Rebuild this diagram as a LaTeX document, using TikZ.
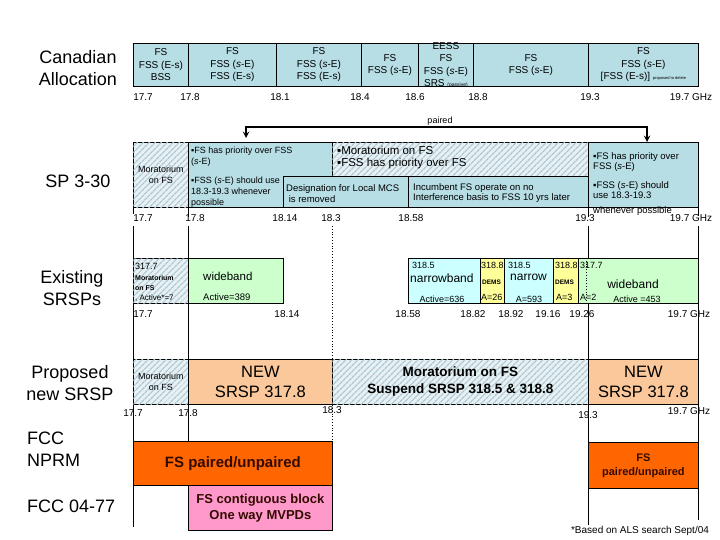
\documentclass[tikz,border=0pt]{standalone}
\usepackage{fontspec}
\setmainfont{Liberation Sans}
\usetikzlibrary{patterns.meta}
\definecolor{bandblue}{RGB}{183,221,229}
\definecolor{hatchbg}{RGB}{232,240,243}
\definecolor{hatchln}{RGB}{170,200,210}
\definecolor{wgreen}{RGB}{204,255,204}
\definecolor{ncyan}{RGB}{204,255,255}
\definecolor{dyellow}{RGB}{255,255,153}
\definecolor{peach}{RGB}{251,200,155}
\definecolor{fccorange}{RGB}{255,102,0}
\definecolor{mpink}{RGB}{255,153,204}
\definecolor{darktxt}{RGB}{51,10,0}
\tikzset{
  cell/.style={draw=black,line width=0.8pt,anchor=north west,inner sep=0pt,align=center},
  fsband/.style={cell,fill=bandblue},
  hatchcell/.style={cell,fill=hatchbg,postaction={pattern={Lines[angle=45,distance=4pt,line width=1.3pt]},pattern color=hatchln}},
  wide/.style={cell,fill=wgreen},
  narrow/.style={cell,fill=ncyan},
  dems/.style={cell,fill=dyellow},
  newsrsp/.style={cell,fill=peach,font=\fontsize{16.5}{20}\selectfont},
  fccbox/.style={cell,fill=fccorange,text=darktxt,font=\bfseries\fontsize{15}{18}\selectfont},
  mvpd/.style={cell,fill=mpink,text=darktxt,font=\bfseries\fontsize{13}{16}\selectfont},
  txt/.style={inner sep=0pt,align=left,anchor=north west,font=\fontsize{9}{11}\selectfont},
  freq/.style={inner sep=0pt,font=\fontsize{10}{12}\selectfont},
  side/.style={inner sep=0pt,align=center,font=\fontsize{18}{22}\selectfont},
  guide/.style={draw=black,line width=0.8pt},
  pairarrow/.style={<->,>=stealth,line width=1.8pt},
}

\begin{document}
\begin{tikzpicture}[x=1pt,y=-1pt,every node/.style={font=\fontsize{10}{12.5}\selectfont}]
\fill[white] (0,0) rectangle (720,540);
\useasboundingbox (0,0) rectangle (720,540);
\node[side] (lcan) at (78,68) {Canadian\\Allocation};
\node[side] (lsp) at (78,181) {SP 3-30};
\node[side] (lex) at (72,288) {Existing\\SRSPs};
\node[side] (lpro) at (70,383) {Proposed\\new SRSP};
\node[side,align=left,anchor=north west] (lfcc) at (27,432) {FCC\\NPRM\\[24pt]FCC 04-77};
\draw[guide] (133,226) -- (133,527);
\draw[guide] (188,226) -- (188,530);
\draw[guide,dotted] (332,226) -- (332,441);
\draw[guide] (588,226) -- (588,525);
\draw[guide] (698,226) -- (698,520);
\node[fsband,minimum width=55,minimum height=43] (ca1) at (133,43) {FS\\FSS (E-s)\\BSS};
\node[fsband,minimum width=88,minimum height=43] (ca2) at (188,43) {FS\\FSS (\textit{s}-E)\\FSS (E-s)};
\node[fsband,minimum width=85,minimum height=43] (ca3) at (276,43) {FS\\FSS (\textit{s}-E)\\FSS (E-s)};
\node[fsband,minimum width=57,minimum height=43] (ca4) at (361,43) {FS\\FSS (\textit{s}-E)};
\node[fsband,minimum width=55,minimum height=43] (ca5) at (418,43) {};
\node[inner sep=0pt,align=center] (ca5t) at (ca5.center) {EESS\\FS\\FSS (\textit{s}-E)\\SRS {\fontsize{5}{6}\selectfont(passive)}};
\node[fsband,minimum width=115,minimum height=43] (ca6) at (473,43) {FS\\FSS (\textit{s}-E)};
\node[fsband,minimum width=110,minimum height=43] (ca7) at (588,43) {FS\\FSS (\textit{s}-E)\\{}[FSS (E-s)] {\fontsize{4}{5}\selectfont proposed to delete}};
\foreach \x/\f [count=\i] in {143/17.7,190/17.8,280/18.1,360/18.4,415/18.6,478/18.8,590/19.3,691/19.7 GHz}
  \node[freq] (caf\i) at (\x,97) {\f};
\coordinate (pairL) at (246,138);
\coordinate (pairT) at (440,127);
\coordinate (pairR) at (647,142);
\draw[pairarrow] (pairL) |- (pairT) -| (pairR);
\node[inner sep=1pt,anchor=south,font=\fontsize{9}{10}\selectfont] (pairlbl) at (pairT) {paired};
\node[hatchcell,minimum width=55,minimum height=65,font=\fontsize{9}{11.5}\selectfont] (sp1) at (133,142) {Moratorium\\on FS};
\node[fsband,minimum width=144,minimum height=65] (sp2) at (188,142) {};
\node[hatchcell,minimum width=256,minimum height=34] (sp3) at (332,142) {};
\node[fsband,minimum width=125,minimum height=31] (sp4) at (283,176) {};
\node[fsband,minimum width=180,minimum height=31] (sp5) at (408,176) {};
\node[fsband,minimum width=110,minimum height=65] (sp6) at (588,142) {};
\node[txt] (sp2a) at (191,147) {▪FS has priority over FSS\\(\textit{s}-E)};
\node[txt] (sp2b) at (191,177) {▪FSS (\textit{s}-E) should use\\18.3-19.3 whenever\\possible};
\node[txt,font=\fontsize{11.5}{12}\selectfont] (sp3a) at (337,146) {▪Moratorium on FS\\▪FSS has priority over FS};
\node[txt,font=\fontsize{9.5}{11}\selectfont] (sp4a) at (286,184) {Designation for Local MCS\\\ is removed};
\node[txt,font=\fontsize{9.5}{10.5}\selectfont] (sp5a) at (413,183) {Incumbent FS operate on no\\Interference basis to FSS 10 yrs later};
\node[txt,font=\fontsize{9.5}{10}\selectfont] (sp6a) at (593,152) {▪FS has priority over\\FSS (\textit{s}-E)};
\node[txt,font=\fontsize{9.5}{10}\selectfont] (sp6b) at (593,181) {▪FSS (\textit{s}-E) should\\use 18.3-19.3};
\node[txt,font=\fontsize{9.5}{10}\selectfont] (sp6c) at (593,206) {whenever possible};
\draw[guide] (sp1.south west) -- ++(0,6);
\draw[guide] (sp2.south west) -- ++(0,9);
\draw[guide] (sp6.south west) -- ++(0,9);
\draw[guide] (sp6.south east) -- ++(0,8);
\foreach \x/\f [count=\i] in {143/17.7,195/17.8,285/18.14,331/18.3,411/18.58,585/19.3,691/19.7 GHz}
  \node[freq] (spf\i) at (\x,218) {\f};
\node[hatchcell,minimum width=55,minimum height=45] (ex1) at (133,258) {};
\node[wide,minimum width=95,minimum height=45] (ex2) at (188,258) {};
\node[narrow,minimum width=72,minimum height=45] (ex3) at (408,258) {};
\node[dems,minimum width=24,minimum height=45] (ex4) at (480,258) {};
\node[narrow,minimum width=49,minimum height=45] (ex5) at (504,258) {};
\node[dems,minimum width=25,minimum height=45] (ex6) at (553,258) {};
\node[wide,minimum width=120,minimum height=45] (ex7) at (578,258) {};
\draw[dotted,line width=0.8pt] ([xshift=8]ex7.north west) -- ([xshift=8]ex7.south west);
\node[txt] (ex1a) at (135,263) {317.7};
\node[txt,font=\bfseries\fontsize{7}{10}\selectfont] (ex1b) at (135,275) {Moratorium\\on FS};
\node[txt,font=\fontsize{8}{10}\selectfont] (ex1c) at (135,295) {, Active*=7};
\node[txt,font=\fontsize{11.5}{12}\selectfont] (ex2a) at (203,272) {wideband};
\node[txt,font=\fontsize{9.5}{10}\selectfont] (ex2b) at (203,293) {Active=389};
\node[txt] (ex3a) at (412,262) {318.5};
\node[txt,font=\fontsize{12}{12}\selectfont] (ex3b) at (410,274) {narrowband};
\node[freq,font=\fontsize{9}{10}\selectfont] (ex3c) at (442,299) {Active=636};
\node[txt] (ex4a) at (481,262) {318.8};
\node[txt,font=\bfseries\fontsize{6.5}{8}\selectfont] (ex4b) at (482,280) {DEMS};
\node[txt] (ex4c) at (481,294) {A=26};
\node[txt] (ex5a) at (508,262) {318.5};
\node[txt,font=\fontsize{12}{12}\selectfont] (ex5b) at (510,274) {narrow};
\node[freq,font=\fontsize{9}{10}\selectfont] (ex5c) at (529,299) {A=593};
\node[txt] (ex6a) at (555,262) {318.8};
\node[txt,font=\bfseries\fontsize{6.5}{8}\selectfont] (ex6b) at (555,280) {DEMS};
\node[txt] (ex6c) at (556,294) {A=3};
\node[txt] (ex7a) at (580,262) {317.7};
\node[freq,font=\fontsize{12}{12}\selectfont] (ex7b) at (633,284) {wideband};
\node[txt] (ex7c) at (580,294) {A=2};
\node[freq,font=\fontsize{9}{10}\selectfont] (ex7d) at (637,299) {Active =453};
\foreach \x/\f [count=\i] in {143/17.7,287/18.14,408/18.58,473/18.82,511/18.92,548/19.16,582/19.26,689/19.7 GHz}
  \node[freq] (exf\i) at (\x,314) {\f};
\node[hatchcell,minimum width=55,minimum height=45,font=\fontsize{9}{11.5}\selectfont] (pr1) at (133,359) {Moratorium\\on FS};
\node[newsrsp,minimum width=144,minimum height=45] (pr2) at (188,359) {NEW\\SRSP 317.8};
\node[hatchcell,minimum width=256,minimum height=45,font=\bfseries\fontsize{13.5}{17}\selectfont] (pr3) at (332,359) {Moratorium on FS\\Suspend SRSP 318.5 \& 318.8};
\node[newsrsp,minimum width=110,minimum height=45] (pr4) at (588,359) {NEW\\SRSP 317.8};
\node[freq] (prf1) at (133,413) {17.7};
\node[freq] (prf2) at (188,413) {17.8};
\node[freq] (prf3) at (332,410) {18.3};
\node[freq] (prf4) at (588,415) {19.3};
\node[freq] (prf5) at (689,411) {19.7 GHz};
\node[fccbox,minimum width=199,minimum height=44] (fcc1) at (133,441) {FS paired/unpaired};
\node[mvpd,minimum width=144,minimum height=45] (fcc2) at (188,485) {FS contiguous block\\One way MVPDs};
\node[fccbox,minimum width=110,minimum height=46,font=\bfseries\fontsize{11}{14}\selectfont] (fcc3) at (588,442) {FS\\paired/unpaired};
\node[freq] (note) at (640,531) {*Based on ALS search Sept/04};
\end{tikzpicture}
\end{document}
